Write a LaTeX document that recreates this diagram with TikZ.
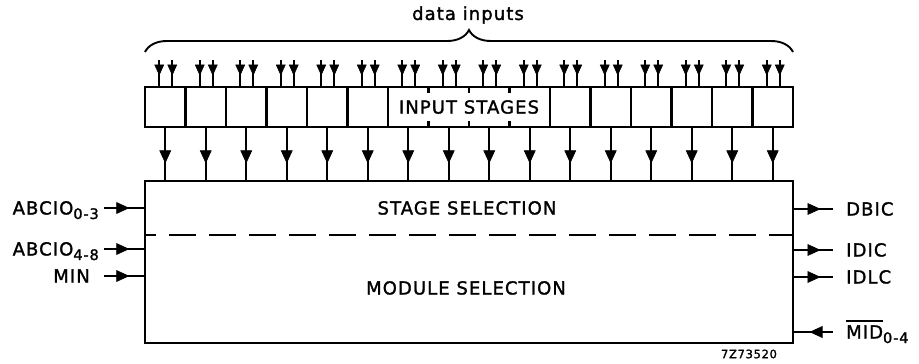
\documentclass[tikz,border=0pt]{standalone}
\usepackage{fontspec}
\setmainfont{DejaVu Sans}[LetterSpace=6, FakeBold=1.5]
\usetikzlibrary{decorations.markings,decorations.pathreplacing,positioning}

\newcommand\lowidx[1]{\raisebox{-4.5pt}{\fontsize{14.5}{15}\selectfont #1}}
\newcommand\barred[1]{\ooalign{#1\cr\leaders\hrule height 19pt depth -17pt\hfill\cr}}

\begin{document}
\begin{tikzpicture}[
    x=1pt, y=-1pt,
    every node/.style={font=\fontsize{18}{20}\selectfont},
    box/.style={
        draw,
        line width=2.6pt,
        outer sep=0pt,
        inner sep=0pt
    },
    cell/.style={
        box,
        minimum width=40.5pt,
        minimum height=40pt
    },
    ghost/.style={cell, draw=none},
    lbl/.style={inner sep=0pt, text height=13pt, text depth=0pt},
    feed/.style={
        line width=1.8pt,
        postaction={decorate},
        decoration={markings,
            mark=at position #1 with {\filldraw[line width=0.6pt, line join=miter] (0,0) -- (-12,5.5) -- (-12,-5.5) -- cycle;}}
    },
    feed/.default=0.6,
    feedsmall/.style={
        line width=1.6pt,
        postaction={decorate},
        decoration={markings,
            mark=at position #1 with {\filldraw[line width=0.6pt, line join=miter] (0,0) -- (-10,4.5) -- (-10,-4.5) -- cycle;}}
    },
    feedsmall/.default=0.6,
    tick/.style={line width=2.2pt},
    divider/.style={line width=2pt, dash pattern=on 27pt off 13pt, dash phase=16pt}
]
    \useasboundingbox (0,0) rectangle (919,364);

    % input stages
    \foreach \i in {1,...,6,11,12,...,16}
        \node[cell] (cell\i) at ({124.75+40.5*\i},107) {};
    \foreach \i in {7,...,10}
        \node[ghost] (cell\i) at ({124.75+40.5*\i},107) {};
    \node[box, minimum width=162pt, minimum height=40pt] (stages) at (469,107) {INPUT STAGES};
    \foreach \i in {7,8,9} {
        \draw[tick] (cell\i.north east) -- ++(0,6);
        \draw[tick] (cell\i.south east) -- ++(0,-6);
    }

    % data inputs
    \foreach \i in {1,...,16} {
        \draw[feedsmall=0.55] ([xshift=-6pt,yshift=27pt]cell\i.north) -- ([xshift=-6pt]cell\i.north);
        \draw[feedsmall=0.55] ([xshift=7pt,yshift=27pt]cell\i.north) -- ([xshift=7pt]cell\i.north);
    }
    \draw[line width=1.9pt, decorate, decoration={brace, amplitude=22pt}]
        ([yshift=35pt]cell1.north west) -- ([yshift=35pt]cell16.north east);
    \node[inner sep=0pt] (datain) at (468,15) {data inputs};

    % selection block
    \node[box, minimum width=648pt, minimum height=162pt] (main) at (469,262) {};
    \foreach \i in {1,...,16}
        \draw[feed=0.66] (cell\i.south) -- (cell\i.south |- main.north);

    \node[lbl] (stagesel) at (467,208) {STAGE SELECTION};
    \node[lbl] (modsel) at (466,288) {MODULE SELECTION};
    \coordinate (split) at (145,235);
    \draw[divider] (split) -- (split -| main.east);

    % left inputs
    \coordinate (abcA) at (104,208);
    \coordinate (abcB) at (104,249);
    \coordinate (min) at (104,276);
    \draw[feed=0.6] (abcA) -- (abcA -| main.west);
    \draw[feed=0.6] (abcB) -- (abcB -| main.west);
    \draw[feed=0.6] (min) -- (min -| main.west);
    \node[lbl, left=5pt of abcA] (abcAlbl) {ABCIO\lowidx{0-3}};
    \node[lbl, left=5pt of abcB] (abcBlbl) {ABCIO\lowidx{4-8}};
    \node[lbl, left=14pt of min] (minlbl) {MIN};

    % right side
    \coordinate (dbic) at (833,209);
    \coordinate (idic) at (833,250);
    \coordinate (idlc) at (833,277);
    \coordinate (mid) at (833,332);
    \draw[feed=0.67] (dbic -| main.east) -- (dbic);
    \draw[feed=0.67] (idic -| main.east) -- (idic);
    \draw[feed=0.67] (idlc -| main.east) -- (idlc);
    \draw[feed=0.57] (mid) -- (mid -| main.east);
    \node[lbl, right=13pt of dbic] (dbiclbl) {DBIC};
    \node[lbl, right=13pt of idic] (idiclbl) {IDIC};
    \node[lbl, right=13pt of idlc] (idlclbl) {IDLC};
    \node[lbl, right=13pt of mid] (midlbl) {\barred{MID}\lowidx{0-4}};

    % drawing number
    \node[inner sep=0pt, font=\fontsize{11.5}{12}\selectfont] (code) at (749,354) {7Z73520};

\end{tikzpicture}
\end{document}
